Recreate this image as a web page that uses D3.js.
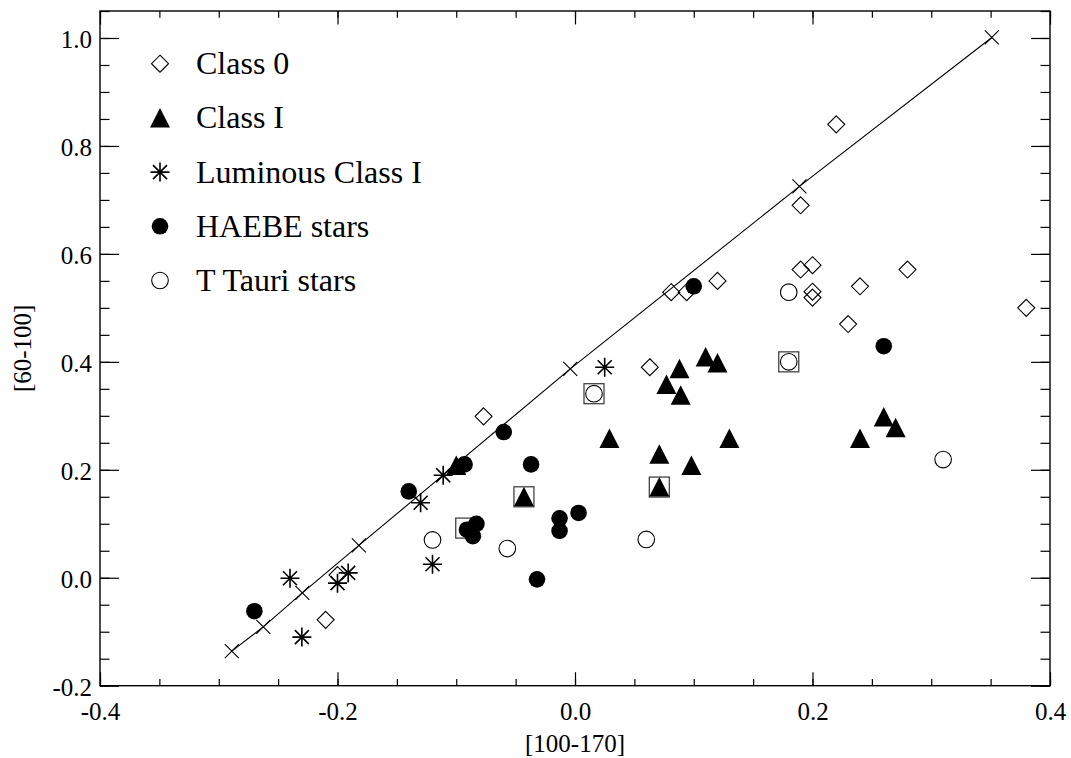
<html>
    <head>
        <meta charset="utf-8">
        <script src="https://d3js.org/d3.v7.min.js"></script>
        <style>
            body { margin: 0; background: #fff; }
            text { font-family: 'Liberation Serif', 'Times New Roman', serif; fill: #000; }
            .axis line { stroke: #000; stroke-width: 1.2; }
            .axis .domain { stroke: none; }
            .axis text { font-size: 25px; font-family: 'Liberation Serif', serif; }
        </style>
    </head>
    <body>
<svg id="p1" width="1071" height="758"></svg>
<script>
    // model track (line with x markers)
    const modelX = [-0.289, -0.2625, -0.2296, -0.182, -0.111, -0.004, 0.189, 0.351];
    const modelY = [-0.136, -0.091, -0.028, 0.060, 0.190, 0.387, 0.725, 1.001];

    const class0 = [[-0.200, 0.005], [-0.210, -0.078], [-0.077, 0.299], [0.063, 0.390], [0.220, 0.840],
        [0.190, 0.690], [0.081, 0.529], [0.094, 0.529], [0.120, 0.550], [0.190, 0.571], [0.200, 0.579],
        [0.200, 0.530], [0.200, 0.519], [0.240, 0.540], [0.280, 0.571], [0.230, 0.470], [0.380, 0.500]];
    const classI = [[0.110, 0.409], [0.120, 0.398], [0.088, 0.387], [0.077, 0.358], [0.089, 0.338],
        [0.029, 0.258], [0.071, 0.229], [0.098, 0.208], [0.130, 0.258], [0.240, 0.258], [0.260, 0.298],
        [0.270, 0.278], [-0.043, 0.150], [0.071, 0.168], [-0.100, 0.208]];
    const lumClassI = [[-0.240, -0.001], [-0.230, -0.110], [-0.200, -0.010], [-0.191, 0.009],
        [-0.130, 0.139], [-0.111, 0.190], [-0.120, 0.025], [0.025, 0.390]];
    const haebe = [[-0.270, -0.062], [-0.140, 0.160], [-0.060, 0.270], [-0.093, 0.210], [-0.037, 0.210],
        [0.003, 0.120], [-0.013, 0.110], [-0.013, 0.087], [-0.032, -0.003], [-0.083, 0.100],
        [-0.091, 0.089], [-0.086, 0.077], [0.100, 0.540], [0.260, 0.429]];
    const tTauri = [[-0.120, 0.070], [-0.057, 0.054], [0.060, 0.071], [0.016, 0.341], [0.180, 0.529],
        [0.180, 0.400], [0.310, 0.219]];
    const boxed = [[-0.092, 0.092], [-0.043, 0.150], [0.016, 0.341], [0.071, 0.168], [0.180, 0.400]];

    const legendLabels = ['Class 0', 'Class I', 'Luminous Class I', 'HAEBE stars', 'T Tauri stars'];
    const xTicks = [-0.4, -0.2, 0.0, 0.2, 0.4];
    const yTicks = [-0.2, 0.0, 0.2, 0.4, 0.6, 0.8, 1.0];

    const svg = d3.select('svg#p1');
    const pLeft = 100, pRight = 1050, pTop = 11, pBottom = 685.7;

    const xScale = d3.scaleLinear().domain([-0.4, 0.4]).range([pLeft, pRight]);
    const yScale = d3.scaleLinear().domain([-0.2, 1.05]).range([pBottom, pTop]);

    const xMinor = d3.range(-0.4, 0.4001, 0.05);
    const yMinor = d3.range(-0.2, 1.0501, 0.05);
    // plain hyphen minus, like the original
    const fmt = d => (Math.abs(d) < 1e-9 ? 0 : d).toFixed(1);

    // axes: ticks point inward on all four sides
    const ax = (axis, tr) => svg.append('g').attr('class', 'axis').attr('transform', tr).call(axis);

    ax(d3.axisBottom(xScale).tickValues(xMinor).tickSize(-6.75).tickFormat(''), `translate(0,${pBottom})`);
    ax(d3.axisBottom(xScale).tickValues(xTicks).tickSize(-13.5).tickPadding(17).tickFormat(fmt), `translate(0,${pBottom})`);
    ax(d3.axisTop(xScale).tickValues(xMinor).tickSize(-6.75).tickFormat(''), `translate(0,${pTop})`);
    ax(d3.axisTop(xScale).tickValues(xTicks).tickSize(-13.5).tickFormat(''), `translate(0,${pTop})`);
    ax(d3.axisLeft(yScale).tickValues(yMinor).tickSize(-9.5).tickFormat(''), `translate(${pLeft},0)`);
    ax(d3.axisLeft(yScale).tickValues(yTicks).tickSize(-19).tickPadding(8).tickFormat(fmt), `translate(${pLeft},0)`)
        .selectAll('text').attr('dy', '0.38em');
    ax(d3.axisRight(yScale).tickValues(yMinor).tickSize(-9.5).tickFormat(''), `translate(${pRight},0)`);
    ax(d3.axisRight(yScale).tickValues(yTicks).tickSize(-19).tickFormat(''), `translate(${pRight},0)`);

    svg.append('rect')
        .attr('x', pLeft).attr('y', pTop)
        .attr('width', pRight - pLeft).attr('height', pBottom - pTop)
        .attr('fill', 'none').attr('stroke', '#000').attr('stroke-width', 1.4);

    svg.append('text')
        .attr('x', xScale(0)).attr('y', 752)
        .attr('text-anchor', 'middle').attr('font-size', 25)
        .text('[100-170]');
    svg.append('text')
        .attr('transform', `translate(31,${(pTop + pBottom) / 2}) rotate(-90)`)
        .attr('text-anchor', 'middle').attr('font-size', 25)
        .text('[60-100]');

    // symbol drawers
    const g = svg.append('g');
    function diamond(p, x, y) {
        p.append('path').attr('d', `M${x},${y - 8.5}L${x + 8.5},${y}L${x},${y + 8.5}L${x - 8.5},${y}Z`)
            .attr('fill', 'none').attr('stroke', '#000').attr('stroke-width', 1.1);
    }
    function triangle(p, x, y) {
        p.append('path').attr('d', `M${x},${y - 10}L${x + 10},${y + 9.5}L${x - 10},${y + 9.5}Z`)
            .attr('fill', '#000');
    }
    function asterisk(p, x, y) {
        const r = 9.5, d = 7;
        p.append('path')
            .attr('d', `M${x - r},${y}L${x + r},${y}M${x},${y - r}L${x},${y + r}` +
                `M${x - d},${y - d}L${x + d},${y + d}M${x - d},${y + d}L${x + d},${y - d}`)
            .attr('stroke', '#000').attr('stroke-width', 1.6);
    }
    function dot(p, x, y) {
        p.append('circle').attr('cx', x).attr('cy', y).attr('r', 8.3).attr('fill', '#000');
    }
    function ring(p, x, y) {
        p.append('circle').attr('cx', x).attr('cy', y).attr('r', 8.3)
            .attr('fill', 'none').attr('stroke', '#000').attr('stroke-width', 1.1);
    }
    function cross(p, x, y) {
        const d = 7;
        p.append('path').attr('d', `M${x - d},${y - d}L${x + d},${y + d}M${x - d},${y + d}L${x + d},${y - d}`)
            .attr('stroke', '#000').attr('stroke-width', 1.1);
    }
    function square(p, x, y) {
        p.append('rect').attr('x', x - 10).attr('y', y - 10).attr('width', 20).attr('height', 20)
            .attr('fill', 'none').attr('stroke', '#444').attr('stroke-width', 1.3);
    }

    // model line
    const line = d3.line().x(d => xScale(d[0])).y(d => yScale(d[1]));
    const model = modelX.map((x, i) => [x, modelY[i]]);
    g.append('path').attr('d', line(model)).attr('fill', 'none').attr('stroke', '#000').attr('stroke-width', 1.1);
    model.forEach(d => cross(g, xScale(d[0]), yScale(d[1])));

    boxed.forEach(d => square(g, xScale(d[0]), yScale(d[1])));
    class0.forEach(d => diamond(g, xScale(d[0]), yScale(d[1])));
    classI.forEach(d => triangle(g, xScale(d[0]), yScale(d[1])));
    lumClassI.forEach(d => asterisk(g, xScale(d[0]), yScale(d[1])));
    haebe.forEach(d => dot(g, xScale(d[0]), yScale(d[1])));
    tTauri.forEach(d => ring(g, xScale(d[0]), yScale(d[1])));

    // legend
    const drawers = [diamond, triangle, asterisk, dot, ring];
    const leg = svg.append('g');
    legendLabels.forEach((lab, i) => {
        const cy = 63.7 + i * 54.2;
        drawers[i](leg, 160, cy);
        leg.append('text').attr('x', 196).attr('y', cy + 10.5).attr('font-size', 32).text(lab);
    });
</script>
    </body>
</html>
